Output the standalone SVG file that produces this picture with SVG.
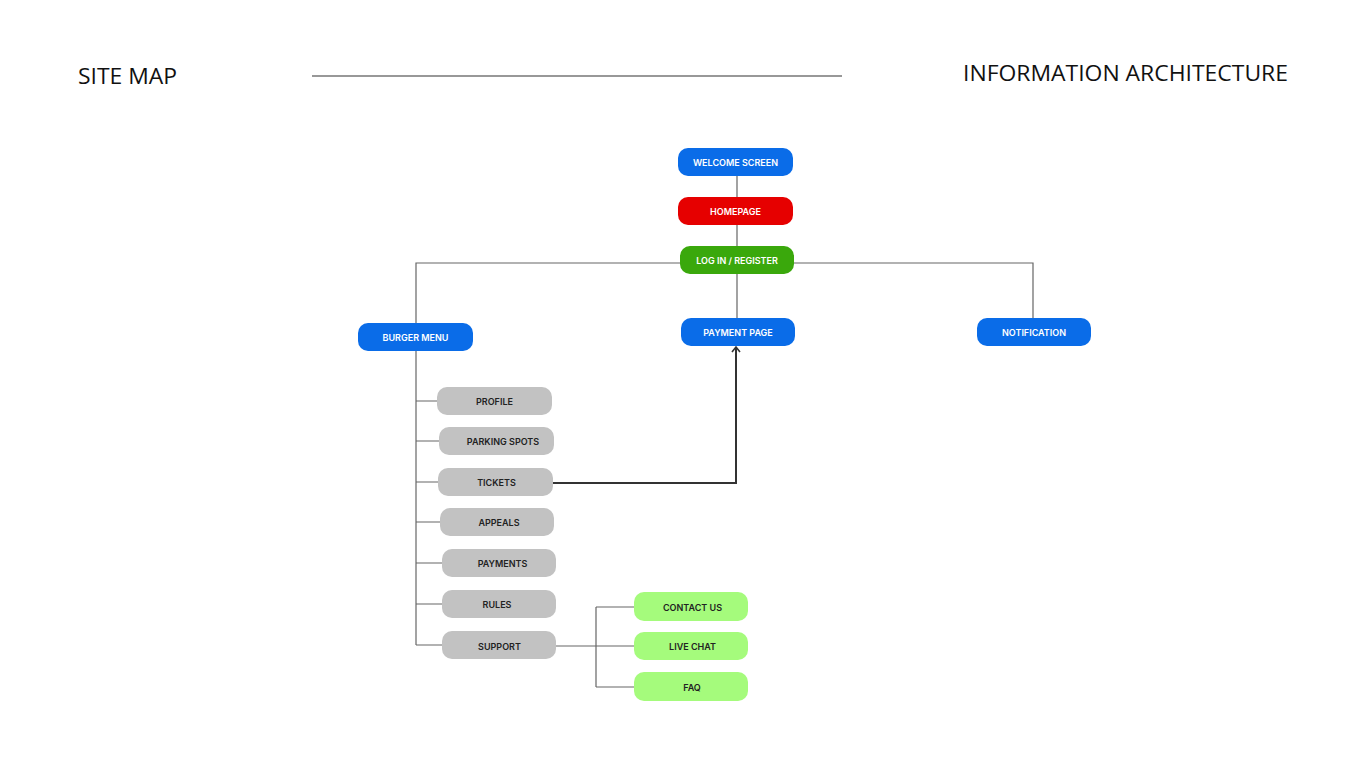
<svg xmlns="http://www.w3.org/2000/svg" width="1366" height="768" viewBox="0 0 1366 768">
<style>
.hdr{font-family:"Open Sans","Liberation Sans",sans-serif;font-size:22px;fill:#111}
.lbl{font-family:Inter,"Liberation Sans",sans-serif;font-size:9px;font-weight:600;text-anchor:middle;dominant-baseline:central}
.w{fill:#fff}.d{fill:#222}
.blue{fill:#0a6ce8}.red{fill:#e60000}.grn{fill:#3aa80c}.gry{fill:#c2c2c2}.lg{fill:#a5fb7c}
.ln{stroke:#666;stroke-width:1.2;fill:none}
.ar{stroke:#333;stroke-width:2;fill:none}
</style>
<defs>
<marker id="ah" markerWidth="10" markerHeight="10" refX="7" refY="5" orient="auto" markerUnits="userSpaceOnUse" viewBox="0 0 10 10">
<path d="M2,1 L7,5 L2,9" fill="none" stroke="#333" stroke-width="1.6"/>
</marker>
</defs>
<rect width="1366" height="768" fill="#fff"/>
<text class="hdr" x="78" y="84" textLength="99" lengthAdjust="spacingAndGlyphs">SITE MAP</text>
<text class="hdr" x="963" y="81" textLength="325" lengthAdjust="spacingAndGlyphs">INFORMATION ARCHITECTURE</text>
<line x1="312" y1="76" x2="842" y2="76" stroke="#333" stroke-width="1.2"/>
<g id="connectors">
<path class="ln" d="M737,176 V197 M737,225 V246 M737,274 V318"/>
<path class="ln" d="M416,323 V263 H680 M794,263 H1033 V318"/>
<path class="ln" d="M416,351 V645"/>
<path class="ln" d="M416,401 H437 M416,441 H439 M416,482 H438 M416,522 H440 M416,563 H442 M416,604 H442 M416,645 H442"/>
<path class="ln" d="M556,646 H596 M596,607 V687 M596,607 H634 M596,646 H634 M596,687 H634"/>
<path class="ar" d="M553,483 H736 V347" marker-end="url(#ah)"/>
</g>
<g id="welcome"><rect class="blue" x="678" y="148" width="115" height="28" rx="10"/><text class="lbl w" x="735.5" y="162">WELCOME SCREEN</text></g>
<g id="homepage"><rect class="red" x="678" y="197" width="115" height="28" rx="10"/><text class="lbl w" x="735.5" y="211">HOMEPAGE</text></g>
<g id="login"><rect class="grn" x="680" y="246" width="114" height="28" rx="10"/><text class="lbl w" x="737" y="260">LOG IN / REGISTER</text></g>
<g id="burger"><rect class="blue" x="358" y="323" width="115" height="28" rx="10"/><text class="lbl w" x="415.5" y="337">BURGER MENU</text></g>
<g id="payment-page"><rect class="blue" x="681" y="318" width="114" height="28" rx="10"/><text class="lbl w" x="738" y="332">PAYMENT PAGE</text></g>
<g id="notification"><rect class="blue" x="977" y="318" width="114" height="28" rx="10"/><text class="lbl w" x="1034" y="332">NOTIFICATION</text></g>
<g id="profile"><rect class="gry" x="437" y="387" width="115" height="28" rx="10"/><text class="lbl d" x="494.5" y="401">PROFILE</text></g>
<g id="parking"><rect class="gry" x="439" y="427" width="115" height="28" rx="10"/><text class="lbl d" x="503" y="441">PARKING SPOTS</text></g>
<g id="tickets"><rect class="gry" x="438" y="468" width="115" height="28" rx="10"/><text class="lbl d" x="496.5" y="482">TICKETS</text></g>
<g id="appeals"><rect class="gry" x="440" y="508" width="114" height="28" rx="10"/><text class="lbl d" x="499" y="522">APPEALS</text></g>
<g id="payments"><rect class="gry" x="442" y="549" width="114" height="28" rx="10"/><text class="lbl d" x="502.5" y="563">PAYMENTS</text></g>
<g id="rules"><rect class="gry" x="442" y="590" width="114" height="28" rx="10"/><text class="lbl d" x="497" y="604">RULES</text></g>
<g id="support"><rect class="gry" x="442" y="631" width="114" height="28" rx="10"/><text class="lbl d" x="499.5" y="646">SUPPORT</text></g>
<g id="contact"><rect class="lg" x="634" y="592" width="114" height="29" rx="10"/><text class="lbl d" x="692.5" y="607">CONTACT US</text></g>
<g id="livechat"><rect class="lg" x="634" y="632" width="114" height="28" rx="10"/><text class="lbl d" x="692.5" y="646">LIVE CHAT</text></g>
<g id="faq"><rect class="lg" x="634" y="672" width="114" height="29" rx="10"/><text class="lbl d" x="692" y="687">FAQ</text></g>
</svg>
